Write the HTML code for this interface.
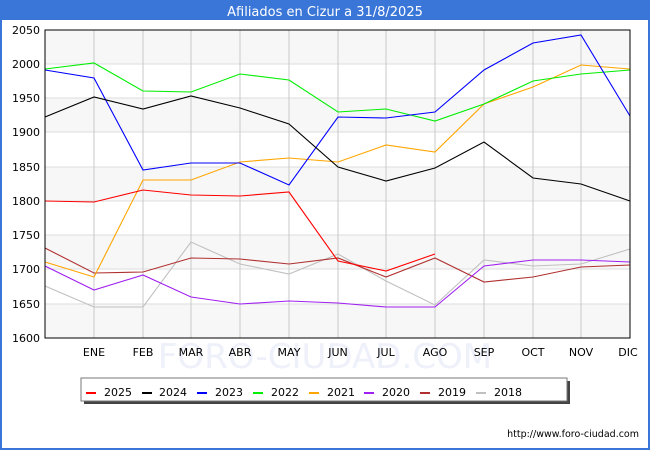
<!DOCTYPE html><html><head><style>body{margin:0}svg{display:block;font-family:"DejaVu Sans","Liberation Sans",sans-serif}</style></head><body>
<svg width="650" height="450" viewBox="0 0 650 450">
<rect x="0" y="0" width="650" height="450" fill="#3a76d8"/>
<rect x="2" y="20" width="646" height="428" fill="#fff"/>
<text x="325" y="16" fill="#fff" font-size="13" text-anchor="middle">Afiliados en Cizur a 31/8/2025</text>
<g fill="#f7f7f7">
<rect x="45" y="30" width="585" height="34"/><rect x="45" y="98" width="585" height="34"/><rect x="45" y="167" width="585" height="34"/><rect x="45" y="235" width="585" height="34"/><rect x="45" y="304" width="585" height="34"/>
</g>
<g stroke="#ddd" stroke-width="1">
<line x1="45" x2="630" y1="64" y2="64"/><line x1="45" x2="630" y1="98" y2="98"/><line x1="45" x2="630" y1="132" y2="132"/><line x1="45" x2="630" y1="167" y2="167"/><line x1="45" x2="630" y1="201" y2="201"/><line x1="45" x2="630" y1="235" y2="235"/><line x1="45" x2="630" y1="269" y2="269"/><line x1="45" x2="630" y1="304" y2="304"/>
</g>
<g stroke="#c8c8c8" stroke-width="1">
<line x1="94" x2="94" y1="30" y2="338"/><line x1="143" x2="143" y1="30" y2="338"/><line x1="191" x2="191" y1="30" y2="338"/><line x1="240" x2="240" y1="30" y2="338"/><line x1="289" x2="289" y1="30" y2="338"/><line x1="338" x2="338" y1="30" y2="338"/><line x1="386" x2="386" y1="30" y2="338"/><line x1="435" x2="435" y1="30" y2="338"/><line x1="484" x2="484" y1="30" y2="338"/><line x1="533" x2="533" y1="30" y2="338"/><line x1="581" x2="581" y1="30" y2="338"/>
</g>
<text x="325" y="368" font-size="34" fill="#eef0fa" text-anchor="middle">FORO-CIUDAD.COM</text>
<g fill="none" stroke-width="1.1">
<polyline stroke="#c0c0c0" points="45,286 94,307 143,307 191,242 240,264 289,274 338,254 386,281 435,305 484,260 533,266 581,264 630,249"/>
<polyline stroke="#b03030" points="45,248 94,273 143,272 191,258 240,259 289,264 338,258 386,277 435,258 484,282 533,277 581,267 630,265"/>
<polyline stroke="#a020f0" points="45,266 94,290 143,275 191,297 240,304 289,301 338,303 386,307 435,307 484,266 533,260 581,260 630,262"/>
<polyline stroke="#ffa500" points="45,262 94,277 143,180 191,180 240,162 289,158 338,162 386,145 435,152 484,104 533,87 581,65 630,69"/>
<polyline stroke="#00ee00" points="45,69 94,63 143,91 191,92 240,74 289,80 338,112 386,109 435,121 484,104 533,81 581,74 630,70"/>
<polyline stroke="#0000ff" points="45,70 94,78 143,170 191,163 240,163 289,185 338,117 386,118 435,112 484,70 533,43 581,35 630,116"/>
<polyline stroke="#000" points="45,117 94,97 143,109 191,96 240,108 289,124 338,167 386,181 435,168 484,142 533,178 581,184 630,201"/>
<polyline stroke="#ff0000" points="45,201 94,202 143,190 191,195 240,196 289,192 338,261 386,271 435,254"/>
</g>
<rect x="45" y="30" width="585" height="308" fill="none" stroke="#000" stroke-width="1"/>
<g font-size="11" fill="#000" text-anchor="end">
<text x="40" y="34">2050</text><text x="40" y="68">2000</text><text x="40" y="102">1950</text><text x="40" y="136">1900</text><text x="40" y="171">1850</text><text x="40" y="205">1800</text><text x="40" y="239">1750</text><text x="40" y="273">1700</text><text x="40" y="308">1650</text><text x="40" y="342">1600</text>
</g>
<g font-size="11" fill="#000" text-anchor="middle">
<text x="94" y="356">ENE</text><text x="143" y="356">FEB</text><text x="191" y="356">MAR</text><text x="240" y="356">ABR</text><text x="289" y="356">MAY</text><text x="338" y="356">JUN</text><text x="386" y="356">JUL</text><text x="435" y="356">AGO</text><text x="484" y="356">SEP</text><text x="533" y="356">OCT</text><text x="581" y="356">NOV</text><text x="628" y="356">DIC</text>
</g>
<rect x="84" y="381" width="486" height="23" fill="#444"/>
<rect x="81" y="378" width="486" height="23" fill="#fff" stroke="#777"/>
<g font-size="11" fill="#000">
<rect x="86" y="392" width="10" height="2" fill="#ff0000"/><text x="104" y="396">2025</text>
<rect x="142" y="392" width="10" height="2" fill="#000"/><text x="159" y="396">2024</text>
<rect x="197" y="392" width="10" height="2" fill="#0000ff"/><text x="215" y="396">2023</text>
<rect x="253" y="392" width="10" height="2" fill="#00ee00"/><text x="271" y="396">2022</text>
<rect x="309" y="392" width="10" height="2" fill="#ffa500"/><text x="327" y="396">2021</text>
<rect x="364" y="392" width="10" height="2" fill="#a020f0"/><text x="382" y="396">2020</text>
<rect x="420" y="392" width="10" height="2" fill="#b03030"/><text x="438" y="396">2019</text>
<rect x="476" y="392" width="10" height="2" fill="#c0c0c0"/><text x="494" y="396">2018</text>
</g>
<text x="639" y="437" font-size="9.5" fill="#000" text-anchor="end">http://www.foro-ciudad.com</text>
</svg></body></html>
